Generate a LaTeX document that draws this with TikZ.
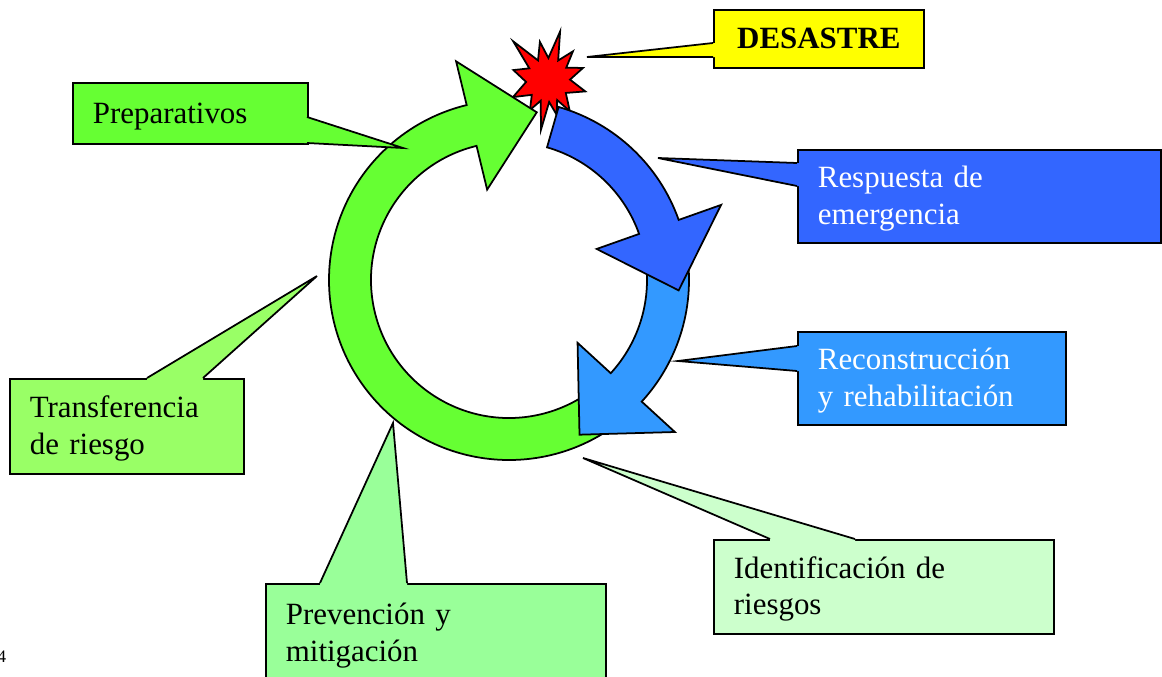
\documentclass[tikz,border=0pt]{standalone}
\usepackage{fontspec}
\setmainfont{Liberation Serif}

\definecolor{MYgreen}{HTML}{66FF33}
\definecolor{MYblue}{HTML}{3366FF}
\definecolor{MYlightblue}{HTML}{3399FF}
\definecolor{MYred}{HTML}{FF0000}
\definecolor{MYyellow}{HTML}{FFFF00}
\definecolor{MYpale}{HTML}{CCFFCC}
\definecolor{MYmint}{HTML}{99FF99}
\definecolor{MYlime}{HTML}{99FF66}

\newcommand\MYouter{180}
\newcommand\MYinner{138}
\newcommand\MYfont{\fontsize{17.6}{20.6}\selectfont}

% curved block arrow: colour, tail angle, head angle
\newcommand\MYarrow[3]{%
  \draw[ring arrow, fill=#1] (#2:\MYouter) arc[start angle=#2, end angle=#3, radius=\MYouter]
    -- (#3:225) -- ({#3+23}:170) -- (#3:93) -- (#3:\MYinner)
    arc[start angle=#3, end angle=#2, radius=\MYinner] -- cycle;}

% callout wedge: colour, base point, tip, base point, shift into the box
\newcommand\MYpointer[5]{%
  \fill[#1] (#2) -- (#3) -- (#4) -- ([shift={(#5)}]#4) -- ([shift={(#5)}]#2) -- cycle;
  \draw[line width=1pt] (#2) -- (#3) -- (#4);}

\begin{document}
\begin{tikzpicture}[x=0.02cm, y=-0.02cm,
  ring arrow/.style={draw, line width=1pt, line join=miter},
  callout box/.style={draw, line width=1pt, anchor=north west, inner xsep=0.4cm,
    inner ysep=0pt, align=left, font=\MYfont},
  callout text/.style={callout box, execute at begin node={\rule{0pt}{0.52cm}}}]

\useasboundingbox (0,0) rectangle (1162,676);
\clip (0,0) rectangle (1162,676);

% explosion
\begin{scope}[shift={(548,80)}]
 \draw[line width=1pt, fill=MYred] (17:39)
   \foreach \a/\r in {36/22,55/38,65.5/22,76/36,87/22,98/50,109.5/22,121/35,137.5/22,
     154/39,175/22,196/36,212/22,228/52,243/22,258/39,271/22,284/50,297.5/22,
     311/38,326/22,341/37,359/22} { -- (\a:\r) } -- cycle;
\end{scope}

% the cycle
\begin{scope}[shift={(509,280)}]
 \MYarrow{MYgreen}{50}{256.4}
 \MYarrow{MYlightblue}{350}{402.5}
 \MYarrow{MYblue}{286}{340.5}
\end{scope}

% callouts
\node[callout text, fill=MYgreen, minimum width=4.70cm, minimum height=1.22cm, text width=3.90cm]
  (prep) at (72,82) {Preparativos};
\coordinate (prep-a) at (307,117);
\coordinate (prep-tip) at (403,148);
\coordinate (prep-b) at (307,143);
\MYpointer{MYgreen}{prep-a}{prep-tip}{prep-b}{-3,0}

\node[callout box, fill=MYyellow, minimum width=4.20cm, minimum height=1.16cm, align=center,
  font=\MYfont\bfseries] (desastre) at (713,9) {DESASTRE};
\coordinate (desastre-a) at (713,43);
\coordinate (desastre-tip) at (587,57);
\coordinate (desastre-b) at (713,57);
\MYpointer{MYyellow}{desastre-a}{desastre-tip}{desastre-b}{3,0}

\node[callout text, fill=MYblue, text=white, minimum width=7.26cm, minimum height=1.86cm, text width=6.46cm]
  (resp) at (797,149) {Respuesta de\\emergencia};
\coordinate (resp-a) at (797,163);
\coordinate (resp-tip) at (658,158);
\coordinate (resp-b) at (797,186);
\MYpointer{MYblue}{resp-a}{resp-tip}{resp-b}{3,0}

\node[callout text, fill=MYlightblue, text=white, minimum width=5.36cm, minimum height=1.86cm, text width=4.56cm]
  (recon) at (797,331) {Reconstrucción\\y rehabilitación};
\coordinate (recon-a) at (797,346);
\coordinate (recon-tip) at (678,361);
\coordinate (recon-b) at (797,371);
\MYpointer{MYlightblue}{recon-a}{recon-tip}{recon-b}{3,0}

\node[callout text, fill=MYpale, minimum width=6.80cm, minimum height=1.88cm, text width=6.00cm]
  (ident) at (713,539) {Identificación de\\riesgos};
\coordinate (ident-a) at (770,539);
\coordinate (ident-tip) at (583,458);
\coordinate (ident-b) at (855,539);
\MYpointer{MYpale}{ident-a}{ident-tip}{ident-b}{0,3}

\node[callout text, fill=MYmint, minimum width=6.80cm, minimum height=1.98cm, text width=6.00cm]
  (prev) at (265,583) {Prevención y\\mitigación};
\coordinate (prev-a) at (320,583);
\coordinate (prev-tip) at (393,423);
\coordinate (prev-b) at (407,583);
\MYpointer{MYmint}{prev-a}{prev-tip}{prev-b}{0,3}

\node[callout text, fill=MYlime, minimum width=4.68cm, minimum height=1.90cm, text width=3.88cm]
  (trans) at (9,378) {Transferencia\\de riesgo};
\coordinate (trans-a) at (147,378);
\coordinate (trans-tip) at (317,276);
\coordinate (trans-b) at (203,378);
\MYpointer{MYlime}{trans-a}{trans-tip}{trans-b}{0,3}

\node[anchor=base west, inner sep=0pt, font=\fontsize{10}{12}\selectfont] (page) at (-3,662) {4};

\end{tikzpicture}
\end{document}
